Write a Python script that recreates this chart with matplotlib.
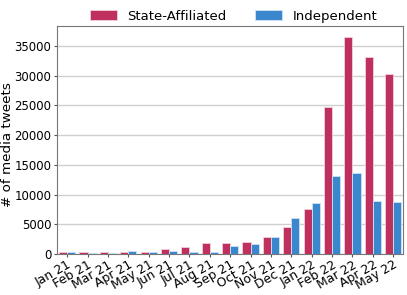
import matplotlib
matplotlib.use("Agg")
import matplotlib.pyplot as plt
import numpy as np

months = ["Jan 21", "Feb 21", "Mar 21", "Apr 21", "May 21", "Jun 21", "Jul 21",
          "Aug 21", "Sep 21", "Oct 21", "Nov 21", "Dec 21", "Jan 22", "Feb 22",
          "Mar 22", "Apr 22", "May 22"]
state = [280, 330, 280, 330, 280, 790, 1120, 1800, 1900, 1960, 2800, 4580,
         7600, 24700, 36500, 33090, 30350]
indep = [280, 220, 110, 450, 330, 450, 330, 280, 1400, 1620, 2850, 6040,
         8550, 13200, 13640, 8840, 8720]

red = "#C0305F"
blue = "#3A87CD"

fig = plt.figure(figsize=(4.07, 2.95), dpi=100)
ax = fig.add_axes([0.140, 0.139, 0.851, 0.774])

x = np.arange(len(months))
w = 0.4
ax.bar(x - w / 2, state, w, color=red, edgecolor="#f0d0dc", linewidth=0.6,
       label="State-Affiliated", zorder=3)
ax.bar(x + w / 2, indep, w, color=blue, edgecolor="#d0e2f4", linewidth=0.6,
       label="Independent", zorder=3)

ax.set_xlim(-0.5, len(months) - 0.5)
ax.set_ylim(0, 38400)
ax.set_yticks(range(0, 35001, 5000))
ax.yaxis.grid(True, color="#d0d0d0", linewidth=1, zorder=0)
ax.set_axisbelow(True)
ax.set_xticks(x)
ax.set_xticklabels(months, rotation=30, ha="right", rotation_mode="anchor",
                   fontsize=9)
ax.tick_params(axis="y", labelsize=8.5, length=2.5, pad=1.5, color="#555555")
ax.tick_params(axis="x", length=2, pad=1, color="#555555")
for s in ax.spines.values():
    s.set_color("#777777")
ax.set_ylabel("# of media tweets", fontsize=9.7)
ax.yaxis.set_label_coords(-0.125, 0.478)

ax.legend(loc="lower center", bbox_to_anchor=(0.51, 0.99), ncol=2, frameon=False,
          fontsize=9.5, handlelength=2.0, columnspacing=2.2, borderaxespad=0)

fig.savefig("out.png", dpi=100)
